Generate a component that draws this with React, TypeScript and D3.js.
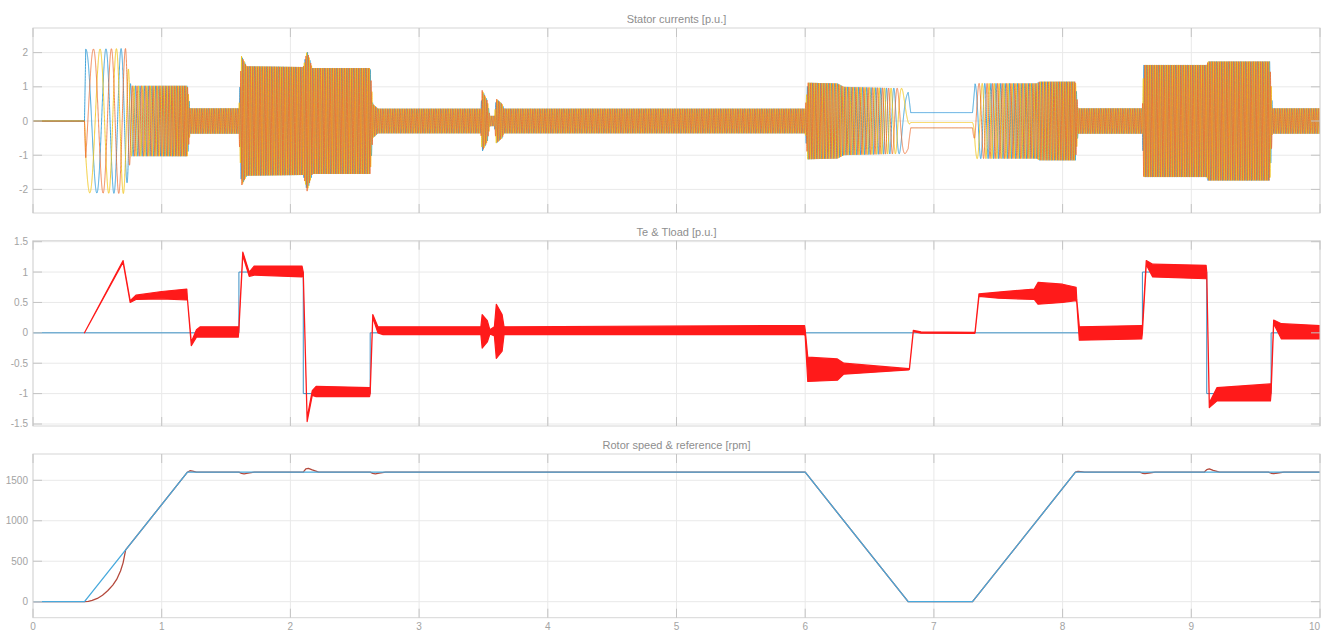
import React, { useMemo } from "react";
import * as d3 from "d3";

// ---- layout ----
const W = 1321;
const H = 631;
const X_LEFT = 33;
const X_RIGHT = 1320;

// ---- shared time axis ----
const TIME_TICKS = [0, 1, 2, 3, 4, 5, 6, 7, 8, 9, 10];

// ---- stator currents [p.u.] ----
const CUR_TICKS = [-2, -1, 0, 1, 2];
// envelope of the phase currents (time [s], peak [p.u.])
const AMP_T = [0, 0.4, 0.41, 0.72, 0.76, 1.2, 1.22, 1.6, 1.62, 1.66, 2.1, 2.13, 2.17, 2.62, 2.64, 2.68, 3.48, 3.49, 3.53, 3.55, 3.585, 3.6, 3.645, 3.66, 6.0, 6.02, 6.25, 6.3, 6.8, 6.82, 7.3, 7.32, 7.8, 7.82, 8.1, 8.12, 8.62, 8.63, 9.12, 9.13, 9.61, 9.63, 10];
const AMP_PU = [0, 0, 2.1, 2.12, 1.03, 1.03, 0.37, 0.37, 1.9, 1.6, 1.58, 2.05, 1.55, 1.55, 0.5, 0.36, 0.36, 0.9, 0.6, 0.15, 0.15, 0.65, 0.5, 0.36, 0.36, 1.12, 1.1, 1.0, 0.95, 0.26, 0.26, 1.1, 1.1, 1.15, 1.15, 0.37, 0.37, 1.64, 1.64, 1.74, 1.74, 0.37, 0.37];
// electrical frequency of the supply (time [s], Hz)
const FREQ_T = [0, 0.4, 0.72, 0.76, 1.2, 6.0, 6.6, 6.82, 7.3, 7.32, 7.45, 8.1, 10];
const FREQ_HZ = [0, 5, 10, 25, 53.3, 53.3, 24, 0, 0, 8, 25, 53.3, 53.3];
// rotor angle held during standstill (deg)
const HOLD_T = 7.0;
const HOLD_ANGLE_DEG = 70;

// ---- electromagnetic torque band & load torque [p.u.] ----
const TE_TICKS = [-1.5, -1, -0.5, 0, 0.5, 1, 1.5];
const TE_T = [0.4, 0.7, 0.755, 0.8, 1.0, 1.195, 1.2, 1.23, 1.27, 1.3, 1.595, 1.6, 1.63, 1.68, 1.72, 2.09, 2.1, 2.13, 2.17, 2.2, 2.615, 2.62, 2.64, 2.68, 2.72, 3.48, 3.49, 3.53, 3.55, 3.585, 3.6, 3.645, 3.66, 5.995, 6.0, 6.02, 6.25, 6.3, 6.805, 6.81, 6.84, 6.9, 7.315, 7.32, 7.35, 7.5, 7.78, 7.81, 8.0, 8.105, 8.11, 8.13, 8.615, 8.62, 8.65, 8.7, 9.115, 9.12, 9.14, 9.2, 9.615, 9.62, 9.64, 9.7, 10];
const TE_LO = [0, 1.16, 0.5, 0.55, 0.56, 0.54, 0.55, -0.21, -0.07, -0.07, -0.07, 0.05, 1.27, 0.93, 0.95, 0.92, 0.95, -1.46, -1.03, -1.05, -1.05, -1.0, 0.25, 0.0, -0.03, -0.03, -0.25, -0.15, -0.02, -0.05, -0.42, -0.3, -0.03, -0.03, -0.05, -0.8, -0.78, -0.68, -0.61, -0.6, 0.02, -0.005, -0.01, 0.0, 0.6, 0.57, 0.55, 0.47, 0.5, 0.53, 0.5, -0.12, -0.1, 0.0, 1.12, 0.92, 0.89, 0.95, -1.23, -1.12, -1.12, -1.0, 0.15, -0.1, -0.1];
const TE_HI = [0, 1.19, 0.53, 0.62, 0.68, 0.72, 0.56, -0.15, 0.05, 0.1, 0.1, 0.1, 1.33, 1.0, 1.1, 1.1, 1.0, -1.4, -0.95, -0.88, -0.9, -0.95, 0.3, 0.1, 0.1, 0.1, 0.3, 0.2, 0.05, 0.1, 0.47, 0.3, 0.1, 0.12, 0.05, -0.4, -0.43, -0.5, -0.59, -0.58, 0.04, 0.015, 0.01, 0.02, 0.64, 0.67, 0.72, 0.83, 0.8, 0.75, 0.55, 0.1, 0.12, 0.1, 1.19, 1.13, 1.11, 1.0, -1.15, -0.9, -0.84, -0.9, 0.21, 0.15, 0.12];
const TLOAD_T = [0, 1.6, 1.6, 2.1, 2.1, 2.62, 2.62, 8.62, 8.62, 9.12, 9.12, 9.62, 9.62, 10];
const TLOAD_PU = [0, 0, 1, 1, -1, -1, 0, 0, 1, 1, -1, -1, 0, 0];

// ---- rotor speed & reference [rpm] ----
const SPD_TICKS = [0, 500, 1000, 1500];
const REF_T = [0, 0.4, 1.2, 6.0, 6.8, 7.3, 8.1, 10];
const REF_RPM = [0, 0, 1600, 1600, 0, 0, 1600, 1600];
const SPD_T = [0, 0.4, 0.43, 0.46, 0.5, 0.54, 0.58, 0.62, 0.65, 0.68, 0.7, 0.72, 1.2, 1.22, 1.24, 1.27, 1.6, 1.62, 1.64, 1.67, 1.72, 2.1, 2.12, 2.14, 2.17, 2.22, 2.62, 2.64, 2.66, 2.69, 2.74, 6.0, 6.8, 7.3, 8.1, 8.12, 8.14, 8.17, 8.6, 8.62, 8.64, 8.67, 8.72, 9.1, 9.12, 9.14, 9.17, 9.22, 9.6, 9.62, 9.64, 9.67, 9.72, 10];
const SPD_RPM = [0, 0, 4, 15, 40, 80, 135, 205, 275, 380, 480, 640, 1600, 1618, 1614, 1600, 1600, 1585, 1580, 1588, 1600, 1600, 1640, 1648, 1628, 1600, 1600, 1585, 1580, 1588, 1600, 1600, 0, 0, 1600, 1610, 1608, 1600, 1600, 1587, 1583, 1590, 1600, 1600, 1632, 1640, 1622, 1600, 1600, 1587, 1583, 1590, 1600, 1600];

const FONT = "'Liberation Sans', Arial, Helvetica, sans-serif";
const GRID = "#e9e9e9";
const BOX = "#d6d6d6";
const TICK_MARK = "#c4c4c4";
const LABEL = "#a3a3a3";
const TITLE = "#8e8e8e";

const C_BLUE = "#2f9bd6";
const C_YELLOW = "#f0c419";
const C_ORANGE = "#ec6a2e";
const C_TE = "#ff1a1a";
const C_TLOAD = "#3a8fc4";
const C_REF = "#48a9dc";
const C_SPD = "#b4493c";

type PanelProps = {
  id: string;
  title: string;
  top: number;
  bottom: number;
  domain: [number, number];
  ticks: number[];
  showTimeLabels?: boolean;
  children: (x: d3.ScaleLinear<number, number>, y: d3.ScaleLinear<number, number>) => React.ReactNode;
};

function Panel({ id, title, top, bottom, domain, ticks, showTimeLabels, children }: PanelProps) {
  const x = d3.scaleLinear().domain([0, 10]).range([X_LEFT, X_RIGHT]);
  const y = d3.scaleLinear().domain(domain).range([bottom, top]);
  const tl = 9;
  return (
    <g>
      <defs>
        <clipPath id={`clip-${id}`}>
          <rect x={X_LEFT} y={top} width={X_RIGHT - X_LEFT} height={bottom - top} />
        </clipPath>
      </defs>
      <rect x={X_LEFT} y={top} width={X_RIGHT - X_LEFT} height={bottom - top} fill="#fff" />
      {TIME_TICKS.map((t) => (
        <line key={`gx${t}`} x1={x(t)} x2={x(t)} y1={top} y2={bottom} stroke={GRID} strokeWidth={1} />
      ))}
      {ticks.map((v) => (
        <line key={`gy${v}`} x1={X_LEFT} x2={X_RIGHT} y1={y(v)} y2={y(v)} stroke={GRID} strokeWidth={1} />
      ))}
      <g clipPath={`url(#clip-${id})`}>{children(x, y)}</g>
      <rect x={X_LEFT} y={top} width={X_RIGHT - X_LEFT} height={bottom - top} fill="none" stroke={BOX} strokeWidth={1} />
      {ticks.map((v) => (
        <g key={`ty${v}`}>
          <line x1={X_LEFT} x2={X_LEFT + tl} y1={y(v)} y2={y(v)} stroke={TICK_MARK} />
          <line x1={X_RIGHT - tl} x2={X_RIGHT} y1={y(v)} y2={y(v)} stroke={TICK_MARK} />
          <text x={X_LEFT - 5} y={y(v)} dy="0.35em" textAnchor="end" fontSize={10} fill={LABEL} fontFamily={FONT}>
            {String(v)}
          </text>
        </g>
      ))}
      {TIME_TICKS.map((t) => {
        const last = t === TIME_TICKS[TIME_TICKS.length - 1];
        return (
          <g key={`tx${t}`}>
            <line x1={x(t)} x2={x(t)} y1={bottom} y2={bottom - tl} stroke={TICK_MARK} />
            <line x1={x(t)} x2={x(t)} y1={top} y2={top + tl} stroke={TICK_MARK} />
            {showTimeLabels && (
              <text
                x={last ? W - 1 : x(t)}
                y={bottom + 12}
                textAnchor={last ? "end" : "middle"}
                fontSize={10}
                fill={LABEL}
                fontFamily={FONT}
              >
                {String(t)}
              </text>
            )}
          </g>
        );
      })}
      <text x={(X_LEFT + X_RIGHT) / 2} y={top - 5} textAnchor="middle" fontSize={11} fill={TITLE} fontFamily={FONT}>
        {title}
      </text>
    </g>
  );
}

function useCurrentPaths() {
  return useMemo(() => {
    const amp = d3.scaleLinear().domain(AMP_T).range(AMP_PU).clamp(true);
    const freq = d3.scaleLinear().domain(FREQ_T).range(FREQ_HZ).clamp(true);
    const DT = 0.0004;
    const n = Math.round(10 / DT) + 1;
    const ts: number[] = [];
    const th: number[] = [];
    let theta = 0;
    for (let i = 0; i < n; i++) {
      const t = i * DT;
      ts.push(t);
      th.push(theta);
      theta += 2 * Math.PI * freq(t) * DT;
    }
    const off = (HOLD_ANGLE_DEG * Math.PI) / 180 - th[Math.round(HOLD_T / DT)];
    const mk = (shift: number) => ts.map((t, i) => [t, amp(t) * Math.sin(th[i] + off + shift)] as [number, number]);
    return {
      blue: mk(0),
      yellow: mk((2 * Math.PI) / 3),
      orange: mk((-2 * Math.PI) / 3),
    };
  }, []);
}

export default function App() {
  const cur = useCurrentPaths();

  return (
    <svg
      width={W}
      height={H}
      viewBox={`0 0 ${W} ${H}`}
      style={{ position: "absolute", left: 0, top: 0, background: "#fff" }}
    >
      <rect x={0} y={0} width={W} height={H} fill="#fff" />

      <Panel id="cur" title="Stator currents [p.u.]" top={28} bottom={213} domain={[-2.69, 2.72]} ticks={CUR_TICKS}>
        {(x, y) => {
          const line = d3
            .line<[number, number]>()
            .x((d) => x(d[0]))
            .y((d) => y(d[1]));
          return (
            <g fill="none" strokeWidth={0.9}>
              <path d={line(cur.blue) ?? ""} stroke={C_BLUE} />
              <path d={line(cur.yellow) ?? ""} stroke={C_YELLOW} />
              <path d={line(cur.orange) ?? ""} stroke={C_ORANGE} strokeOpacity={0.9} />
            </g>
          );
        }}
      </Panel>

      <Panel id="te" title="Te & Tload [p.u.]" top={240.7} bottom={426} domain={[-1.533, 1.516]} ticks={TE_TICKS}>
        {(x, y) => {
          const area = d3
            .area<number>()
            .x((_, i) => x(TE_T[i]))
            .y0((_, i) => y(TE_LO[i]))
            .y1((_, i) => y(TE_HI[i]));
          const load = d3
            .line<number>()
            .x((_, i) => x(TLOAD_T[i]))
            .y((v) => y(v));
          return (
            <g>
              <path d={load(TLOAD_PU) ?? ""} fill="none" stroke={C_TLOAD} strokeWidth={1} />
              <path d={area(TE_T) ?? ""} fill={C_TE} stroke={C_TE} strokeWidth={1.2} strokeLinejoin="round" />
            </g>
          );
        }}
      </Panel>

      <Panel
        id="spd"
        title="Rotor speed & reference [rpm]"
        top={454}
        bottom={617.7}
        domain={[-198, 1825]}
        ticks={SPD_TICKS}
        showTimeLabels
      >
        {(x, y) => {
          const spd = d3
            .line<number>()
            .x((_, i) => x(SPD_T[i]))
            .y((v) => y(v));
          const ref = d3
            .line<number>()
            .x((_, i) => x(REF_T[i]))
            .y((v) => y(v));
          return (
            <g fill="none" strokeLinejoin="round">
              <path d={spd(SPD_RPM) ?? ""} stroke={C_SPD} strokeWidth={1.3} />
              <path d={ref(REF_RPM) ?? ""} stroke={C_REF} strokeWidth={1.3} />
            </g>
          );
        }}
      </Panel>
    </svg>
  );
}
